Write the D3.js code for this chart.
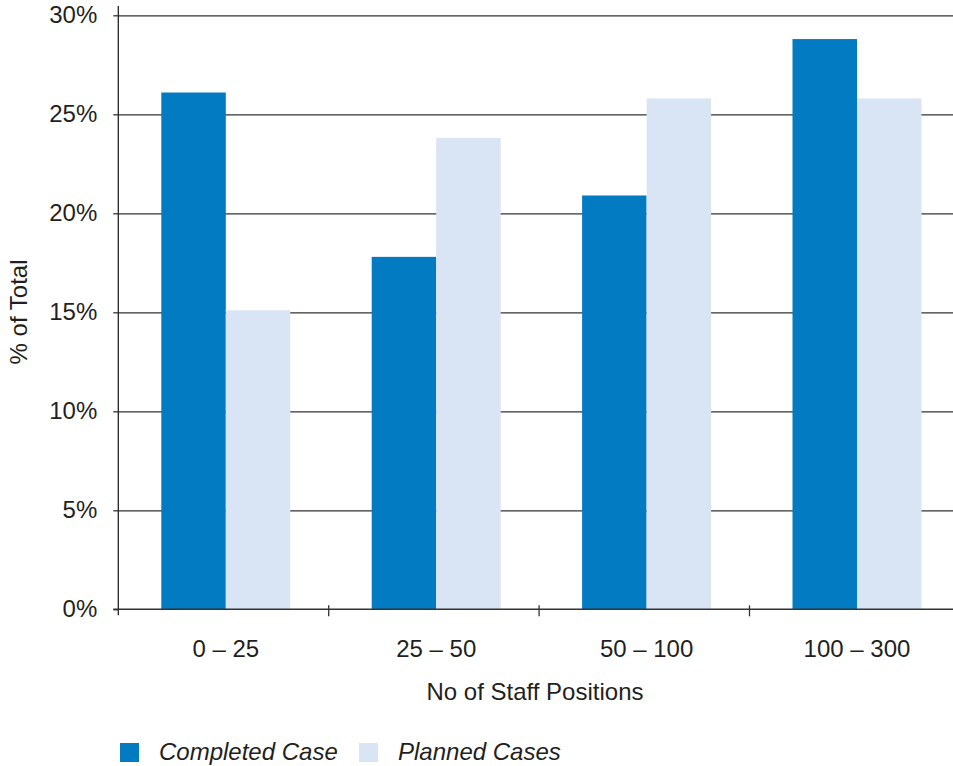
<!DOCTYPE html>
<html>
<head>
<meta charset="utf-8">
<script src="https://cdn.jsdelivr.net/npm/d3@7"></script>
<style>
html,body{margin:0;padding:0;background:#fff;}
svg{display:block;}
text{font-family:"Liberation Sans",Arial,Helvetica,sans-serif;fill:#231f20;}
</style>
</head>
<body>
<svg id="chart" width="953" height="766"></svg>
<script>
const categories = ["0 – 25", "25 – 50", "50 – 100", "100 – 300"];
const seriesNames = ["Completed Case", "Planned Cases"];
const completed = [26.1, 17.8, 20.9, 28.8];
const planned = [15.1, 23.8, 25.8, 25.8];
const yTicks = [0, 5, 10, 15, 20, 25, 30];
const colors = ["#027bc2", "#d9e4f4"];

const W = 953, H = 766;
const FS = "24px";
const plotLeft = 118.3, plotTop = 15.3, plotBottom = 609.3, step = 210.4;
const svg = d3.select("#chart");

const y = d3.scaleLinear().domain([0, 30]).range([plotBottom, plotTop]);
const x0 = d3.scaleBand().domain(categories).range([plotLeft, plotLeft + step * categories.length]).padding(0);
const x1 = d3.scaleBand().domain(seriesNames).range([43, 43 + 129]).padding(0);
const color = d3.scaleOrdinal().domain(seriesNames).range(colors);

const rows = categories.map((c, i) => ({cat: c, vals: [completed[i], planned[i]]}));

// gridlines
const grid = svg.append("g").attr("transform", `translate(${plotLeft},0)`)
  .call(d3.axisLeft(y).tickValues(yTicks.filter(v => v > 0)).tickSize(-(W - plotLeft)).tickFormat(""));
grid.select(".domain").remove();
grid.selectAll(".tick line").attr("stroke", "#333").attr("stroke-width", 1.3);

// bars
const g = svg.append("g");
g.selectAll("g.grp").data(rows).join("g").attr("class", "grp")
  .attr("transform", d => `translate(${x0(d.cat)},0)`)
  .selectAll("rect").data(d => d.vals.map((v, i) => ({s: seriesNames[i], v})))
  .join("rect")
  .attr("x", d => x1(d.s))
  .attr("width", x1.bandwidth())
  .attr("y", d => y(d.v))
  .attr("height", d => y(0) - y(d.v))
  .attr("fill", d => color(d.s));

// y axis
const ya = svg.append("g").attr("transform", `translate(${plotLeft},0)`)
  .call(d3.axisLeft(y).tickValues(yTicks).tickSize(5).tickPadding(16).tickFormat(d => d + "%"));
ya.select(".domain").attr("d", `M0,6V${plotBottom + 6}`).attr("stroke", "#222").attr("stroke-width", 1.3);
ya.selectAll(".tick line").attr("stroke", "#333").attr("stroke-width", 1.3);
ya.selectAll(".tick text").style("font-size", FS).attr("fill", "#231f20");

// x axis line
svg.append("line").attr("x1", plotLeft - 5).attr("x2", W).attr("y1", plotBottom).attr("y2", plotBottom)
  .attr("stroke", "#333").attr("stroke-width", 1.5);
// x ticks at band boundaries
svg.append("g").selectAll("line").data(categories.slice(1))
  .join("line")
  .attr("x1", d => x0(d)).attr("x2", d => x0(d))
  .attr("y1", plotBottom - 4).attr("y2", plotBottom + 7)
  .attr("stroke", "#333").attr("stroke-width", 1.3);
// x tick labels
svg.append("g").selectAll("text").data(categories).join("text")
  .attr("x", d => x0(d) + x1.range()[0] + (x1.range()[1] - x1.range()[0]) / 2)
  .attr("y", 657)
  .attr("text-anchor", "middle")
  .style("font-size", FS)
  .text(d => d);

// axis titles
svg.append("text").attr("x", 535).attr("y", 700).attr("text-anchor", "middle")
  .style("font-size", FS).text("No of Staff Positions");
svg.append("text").attr("transform", "translate(27,312) rotate(-90)").attr("text-anchor", "middle")
  .style("font-size", FS).text("% of Total");

// legend
const legX = [120, 359];
const leg = svg.append("g").selectAll("g").data(seriesNames).join("g")
  .attr("transform", (d, i) => `translate(${legX[i]},743)`);
leg.append("rect").attr("width", 19).attr("height", 19).attr("fill", d => color(d));
leg.append("text").attr("x", 39).attr("y", 17).style("font-size", FS).style("font-style", "italic").text(d => d);
</script>
</body>
</html>
